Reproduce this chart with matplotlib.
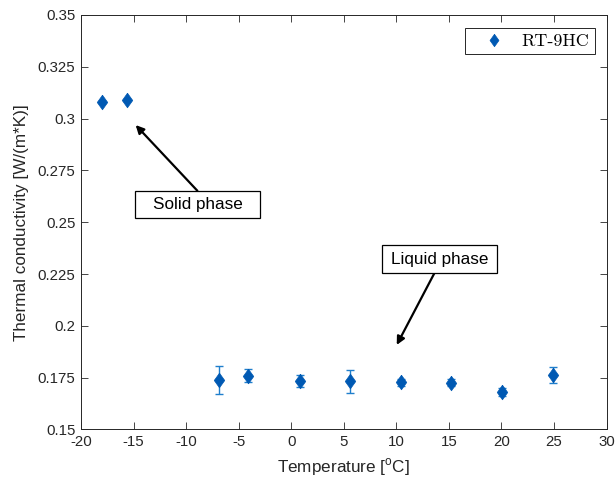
import matplotlib
matplotlib.use("Agg")
import matplotlib.pyplot as plt
from matplotlib.patches import Rectangle
from matplotlib.ticker import FuncFormatter

# Measured thermal conductivity of RT-9HC
temperature = [-18.0, -15.6, -6.9, -4.1, 0.8, 5.6, 10.4, 15.2, 20.1, 24.9]
conductivity = [0.308, 0.309, 0.1739, 0.1760, 0.1735, 0.1733, 0.1728, 0.1726, 0.1682, 0.1763]
uncertainty = [0.0, 0.0, 0.0068, 0.0031, 0.0030, 0.0056, 0.0016, 0.0018, 0.0020, 0.0040]

x_ticks = [-20, -15, -10, -5, 0, 5, 10, 15, 20, 25, 30]
y_ticks = [0.15, 0.175, 0.2, 0.225, 0.25, 0.275, 0.3, 0.325, 0.35]

plt.rcParams["font.family"] = ["Liberation Sans", "DejaVu Sans"]
plt.rcParams["mathtext.fontset"] = "custom"
plt.rcParams["mathtext.rm"] = "Liberation Sans"

axis_gray = "#262626"
marker_blue = "#0059B3"
bar_blue = "#1F7FCC"

# diamond a little taller than wide
diamond = [(0, 1), (0.72, 0), (0, -1), (-0.72, 0), (0, 1)]

fig = plt.figure(figsize=(6.16, 4.87), dpi=100)
ax = fig.add_axes([0.1315, 0.1181, 0.8531, 0.8511])

# error bars (zero-width ones are not drawn)
ebx = [t for t, u in zip(temperature, uncertainty) if u > 0]
eby = [c for c, u in zip(conductivity, uncertainty) if u > 0]
ebu = [u for u in uncertainty if u > 0]
ax.errorbar(ebx, eby, yerr=ebu, fmt="none", ecolor=bar_blue,
            elinewidth=1.0, capsize=3, capthick=1.0, zorder=2)
ax.plot(temperature, conductivity, linestyle="none", marker=diamond,
        markersize=10.5, color=marker_blue, markeredgecolor=marker_blue,
        markeredgewidth=0.5, label="RT-9HC", zorder=3)

ax.set_xlim(-20, 30)
ax.set_ylim(0.15, 0.35)
ax.set_xticks(x_ticks)
ax.set_yticks(y_ticks)
ax.xaxis.set_major_formatter(FuncFormatter(lambda v, p: f"{v:g}"))
ax.yaxis.set_major_formatter(FuncFormatter(lambda v, p: f"{v:g}"))
ax.tick_params(direction="in", top=True, right=True, length=5, width=0.6,
               colors=axis_gray, labelsize=10.8, pad=4)
for s in ax.spines.values():
    s.set_color(axis_gray)
    s.set_linewidth(0.7)

ax.set_xlabel("Temperature [$^{\\rm o}$C]", fontsize=12.3, color=axis_gray, labelpad=5)
ax.set_ylabel("Thermal conductivity [W/(m*K)]", fontsize=12.3, color=axis_gray, labelpad=6)

# phase annotations: boxed labels with arrows
def boxed_label(text, x0, x1, y0, y1, tail, tip):
    ax.add_patch(Rectangle((x0, y0), x1 - x0, y1 - y0, facecolor="white",
                           edgecolor="black", linewidth=0.9, zorder=4))
    ax.text((x0 + x1) / 2, (y0 + y1) / 2, text, ha="center", va="center",
            fontsize=12.3, color="black", zorder=5)
    ax.annotate("", xy=tip, xytext=tail,
                arrowprops=dict(arrowstyle="-|>", color="black", lw=1.6,
                                mutation_scale=12, shrinkA=0, shrinkB=0),
                zorder=3)

boxed_label("Solid phase", -14.86, -2.97, 0.2519, 0.2652, (-8.93, 0.2652), (-14.8, 0.2969))
boxed_label("Liquid phase", 8.67, 19.58, 0.2254, 0.2390, (13.62, 0.2254), (10.04, 0.1908))

leg = ax.legend(loc="upper right", prop={"family": "cmr10", "size": 13},
                frameon=True, fancybox=False, framealpha=1, edgecolor=axis_gray,
                borderpad=0.3, handletextpad=0.25, handlelength=2.6,
                borderaxespad=0, markerscale=0.85,
                bbox_to_anchor=(0.978, 0.9686))
leg.get_frame().set_linewidth(0.7)

fig.savefig("out.png", dpi=100)
